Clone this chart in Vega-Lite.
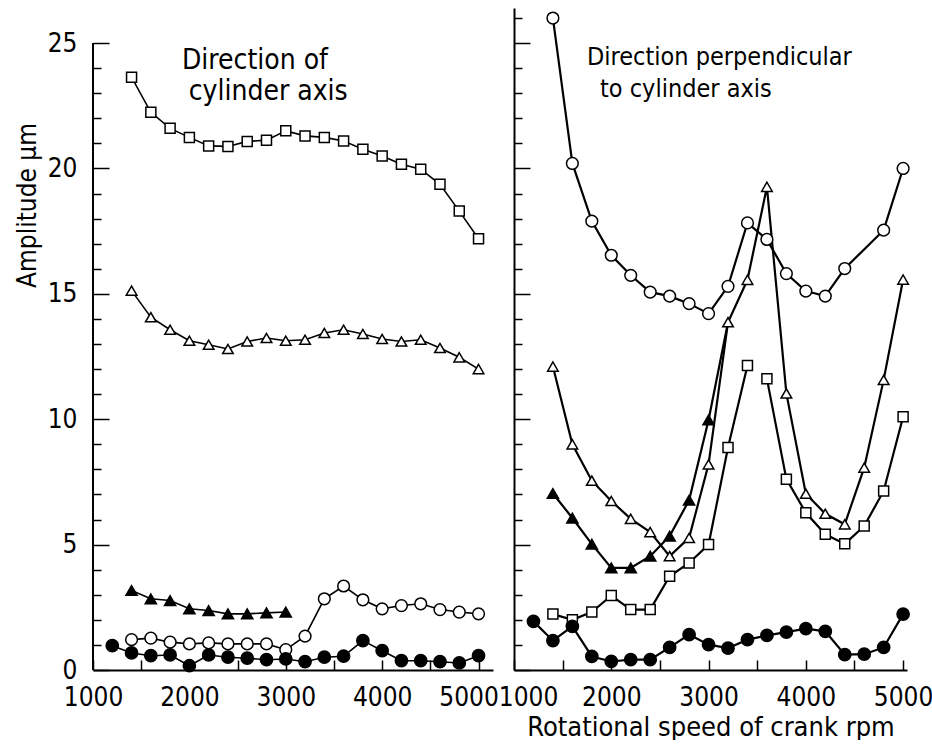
{
  "$schema": "https://vega.github.io/schema/vega-lite/v6.json",
  "background": "white",
  "padding": {"left": 14, "top": 8, "right": 5, "bottom": 0},
  "spacing": 21,
  "bounds": "flush",
  "config": {
    "view": {"stroke": null},
    "font": "Liberation Sans Narrow, DejaVu Sans Condensed, DejaVu Sans, sans-serif",
    "axis": {
      "grid": false,
      "labelFont": "Liberation Sans Narrow, DejaVu Sans Condensed, DejaVu Sans, sans-serif",
      "labelFontSize": 26,
      "labelColor": "black",
      "tickColor": "black",
      "tickWidth": 1.5,
      "domainColor": "black",
      "domainWidth": 2,
      "titleFont": "Liberation Sans Narrow, DejaVu Sans Condensed, DejaVu Sans, sans-serif",
      "titleFontSize": 26,
      "titleFontWeight": "normal",
      "titleColor": "black",
      "labelOverlap": false,
      "labelFlush": false
    }
  },
  "datasets": {
    "pts": [
      {"panel":"A","series":"square","branch":1,"rpm":1400,"amp":23.64},
      {"panel":"A","series":"square","branch":1,"rpm":1600,"amp":22.24},
      {"panel":"A","series":"square","branch":1,"rpm":1800,"amp":21.6},
      {"panel":"A","series":"square","branch":1,"rpm":2000,"amp":21.24},
      {"panel":"A","series":"square","branch":1,"rpm":2200,"amp":20.9},
      {"panel":"A","series":"square","branch":1,"rpm":2400,"amp":20.88},
      {"panel":"A","series":"square","branch":1,"rpm":2600,"amp":21.08},
      {"panel":"A","series":"square","branch":1,"rpm":2800,"amp":21.13},
      {"panel":"A","series":"square","branch":1,"rpm":3000,"amp":21.5},
      {"panel":"A","series":"square","branch":1,"rpm":3200,"amp":21.3},
      {"panel":"A","series":"square","branch":1,"rpm":3400,"amp":21.24},
      {"panel":"A","series":"square","branch":1,"rpm":3600,"amp":21.1},
      {"panel":"A","series":"square","branch":1,"rpm":3800,"amp":20.77},
      {"panel":"A","series":"square","branch":1,"rpm":4000,"amp":20.5},
      {"panel":"A","series":"square","branch":1,"rpm":4200,"amp":20.17},
      {"panel":"A","series":"square","branch":1,"rpm":4400,"amp":19.97},
      {"panel":"A","series":"square","branch":1,"rpm":4600,"amp":19.37},
      {"panel":"A","series":"square","branch":1,"rpm":4800,"amp":18.3},
      {"panel":"A","series":"square","branch":1,"rpm":5000,"amp":17.2},
      {"panel":"A","series":"triangle","branch":1,"rpm":1400,"amp":15.13},
      {"panel":"A","series":"triangle","branch":1,"rpm":1600,"amp":14.07},
      {"panel":"A","series":"triangle","branch":1,"rpm":1800,"amp":13.57},
      {"panel":"A","series":"triangle","branch":1,"rpm":2000,"amp":13.13},
      {"panel":"A","series":"triangle","branch":1,"rpm":2200,"amp":12.97},
      {"panel":"A","series":"triangle","branch":1,"rpm":2400,"amp":12.8},
      {"panel":"A","series":"triangle","branch":1,"rpm":2600,"amp":13.1},
      {"panel":"A","series":"triangle","branch":1,"rpm":2800,"amp":13.24},
      {"panel":"A","series":"triangle","branch":1,"rpm":3000,"amp":13.13},
      {"panel":"A","series":"triangle","branch":1,"rpm":3200,"amp":13.17},
      {"panel":"A","series":"triangle","branch":1,"rpm":3400,"amp":13.44},
      {"panel":"A","series":"triangle","branch":1,"rpm":3600,"amp":13.57},
      {"panel":"A","series":"triangle","branch":1,"rpm":3800,"amp":13.4},
      {"panel":"A","series":"triangle","branch":1,"rpm":4000,"amp":13.2},
      {"panel":"A","series":"triangle","branch":1,"rpm":4200,"amp":13.1},
      {"panel":"A","series":"triangle","branch":1,"rpm":4400,"amp":13.17},
      {"panel":"A","series":"triangle","branch":1,"rpm":4600,"amp":12.84},
      {"panel":"A","series":"triangle","branch":1,"rpm":4800,"amp":12.47},
      {"panel":"A","series":"triangle","branch":1,"rpm":5000,"amp":12.0},
      {"panel":"A","series":"filled_triangle","branch":1,"rpm":1400,"amp":3.17},
      {"panel":"A","series":"filled_triangle","branch":1,"rpm":1600,"amp":2.84},
      {"panel":"A","series":"filled_triangle","branch":1,"rpm":1800,"amp":2.77},
      {"panel":"A","series":"filled_triangle","branch":1,"rpm":2000,"amp":2.44},
      {"panel":"A","series":"filled_triangle","branch":1,"rpm":2200,"amp":2.37},
      {"panel":"A","series":"filled_triangle","branch":1,"rpm":2400,"amp":2.24},
      {"panel":"A","series":"filled_triangle","branch":1,"rpm":2600,"amp":2.24},
      {"panel":"A","series":"filled_triangle","branch":1,"rpm":2800,"amp":2.28},
      {"panel":"A","series":"filled_triangle","branch":1,"rpm":3000,"amp":2.31},
      {"panel":"A","series":"circle","branch":1,"rpm":1400,"amp":1.21},
      {"panel":"A","series":"circle","branch":1,"rpm":1600,"amp":1.27},
      {"panel":"A","series":"circle","branch":1,"rpm":1800,"amp":1.11},
      {"panel":"A","series":"circle","branch":1,"rpm":2000,"amp":1.04},
      {"panel":"A","series":"circle","branch":1,"rpm":2200,"amp":1.08},
      {"panel":"A","series":"circle","branch":1,"rpm":2400,"amp":1.04},
      {"panel":"A","series":"circle","branch":1,"rpm":2600,"amp":1.04},
      {"panel":"A","series":"circle","branch":1,"rpm":2800,"amp":1.04},
      {"panel":"A","series":"circle","branch":1,"rpm":3000,"amp":0.81},
      {"panel":"A","series":"circle","branch":1,"rpm":3200,"amp":1.35},
      {"panel":"A","series":"circle","branch":1,"rpm":3400,"amp":2.84},
      {"panel":"A","series":"circle","branch":1,"rpm":3600,"amp":3.35},
      {"panel":"A","series":"circle","branch":1,"rpm":3800,"amp":2.8},
      {"panel":"A","series":"circle","branch":1,"rpm":4000,"amp":2.44},
      {"panel":"A","series":"circle","branch":1,"rpm":4200,"amp":2.57},
      {"panel":"A","series":"circle","branch":1,"rpm":4400,"amp":2.64},
      {"panel":"A","series":"circle","branch":1,"rpm":4600,"amp":2.41},
      {"panel":"A","series":"circle","branch":1,"rpm":4800,"amp":2.31},
      {"panel":"A","series":"circle","branch":1,"rpm":5000,"amp":2.24},
      {"panel":"A","series":"filled_circle","branch":1,"rpm":1200,"amp":0.97},
      {"panel":"A","series":"filled_circle","branch":1,"rpm":1400,"amp":0.68},
      {"panel":"A","series":"filled_circle","branch":1,"rpm":1600,"amp":0.57},
      {"panel":"A","series":"filled_circle","branch":1,"rpm":1800,"amp":0.6},
      {"panel":"A","series":"filled_circle","branch":1,"rpm":2000,"amp":0.17},
      {"panel":"A","series":"filled_circle","branch":1,"rpm":2200,"amp":0.6},
      {"panel":"A","series":"filled_circle","branch":1,"rpm":2400,"amp":0.51},
      {"panel":"A","series":"filled_circle","branch":1,"rpm":2600,"amp":0.47},
      {"panel":"A","series":"filled_circle","branch":1,"rpm":2800,"amp":0.41},
      {"panel":"A","series":"filled_circle","branch":1,"rpm":3000,"amp":0.44},
      {"panel":"A","series":"filled_circle","branch":1,"rpm":3200,"amp":0.33},
      {"panel":"A","series":"filled_circle","branch":1,"rpm":3400,"amp":0.51},
      {"panel":"A","series":"filled_circle","branch":1,"rpm":3600,"amp":0.55},
      {"panel":"A","series":"filled_circle","branch":1,"rpm":3800,"amp":1.17},
      {"panel":"A","series":"filled_circle","branch":1,"rpm":4000,"amp":0.77},
      {"panel":"A","series":"filled_circle","branch":1,"rpm":4200,"amp":0.37},
      {"panel":"A","series":"filled_circle","branch":1,"rpm":4400,"amp":0.37},
      {"panel":"A","series":"filled_circle","branch":1,"rpm":4600,"amp":0.33},
      {"panel":"A","series":"filled_circle","branch":1,"rpm":4800,"amp":0.28},
      {"panel":"A","series":"filled_circle","branch":1,"rpm":5000,"amp":0.57},

      {"panel":"P","series":"circle","branch":1,"rpm":1400,"amp":26.0},
      {"panel":"P","series":"circle","branch":1,"rpm":1600,"amp":20.2},
      {"panel":"P","series":"circle","branch":1,"rpm":1800,"amp":17.9},
      {"panel":"P","series":"circle","branch":1,"rpm":2000,"amp":16.54},
      {"panel":"P","series":"circle","branch":1,"rpm":2200,"amp":15.74},
      {"panel":"P","series":"circle","branch":1,"rpm":2400,"amp":15.07},
      {"panel":"P","series":"circle","branch":1,"rpm":2600,"amp":14.91},
      {"panel":"P","series":"circle","branch":1,"rpm":2800,"amp":14.61},
      {"panel":"P","series":"circle","branch":1,"rpm":3000,"amp":14.21},
      {"panel":"P","series":"circle","branch":1,"rpm":3200,"amp":15.3},
      {"panel":"P","series":"circle","branch":1,"rpm":3400,"amp":17.83},
      {"panel":"P","series":"circle","branch":1,"rpm":3600,"amp":17.17},
      {"panel":"P","series":"circle","branch":1,"rpm":3800,"amp":15.81},
      {"panel":"P","series":"circle","branch":1,"rpm":4000,"amp":15.11},
      {"panel":"P","series":"circle","branch":1,"rpm":4200,"amp":14.91},
      {"panel":"P","series":"circle","branch":1,"rpm":4400,"amp":16.01},
      {"panel":"P","series":"circle","branch":1,"rpm":4800,"amp":17.54},
      {"panel":"P","series":"circle","branch":1,"rpm":5000,"amp":20.0},
      {"panel":"P","series":"triangle","branch":1,"rpm":1400,"amp":12.1},
      {"panel":"P","series":"triangle","branch":1,"rpm":1600,"amp":9.0},
      {"panel":"P","series":"triangle","branch":1,"rpm":1800,"amp":7.55},
      {"panel":"P","series":"triangle","branch":1,"rpm":2000,"amp":6.74},
      {"panel":"P","series":"triangle","branch":1,"rpm":2200,"amp":6.03},
      {"panel":"P","series":"triangle","branch":1,"rpm":2400,"amp":5.5},
      {"panel":"P","series":"triangle","branch":1,"rpm":2600,"amp":4.54},
      {"panel":"P","series":"triangle","branch":1,"rpm":2800,"amp":5.27},
      {"panel":"P","series":"triangle","branch":1,"rpm":3000,"amp":8.2},
      {"panel":"P","series":"triangle","branch":1,"rpm":3200,"amp":13.87},
      {"panel":"P","series":"triangle","branch":1,"rpm":3400,"amp":15.56},
      {"panel":"P","series":"triangle","branch":1,"rpm":3600,"amp":19.27},
      {"panel":"P","series":"triangle","branch":1,"rpm":3800,"amp":11.03},
      {"panel":"P","series":"triangle","branch":1,"rpm":4000,"amp":7.03},
      {"panel":"P","series":"triangle","branch":1,"rpm":4200,"amp":6.23},
      {"panel":"P","series":"triangle","branch":1,"rpm":4400,"amp":5.81},
      {"panel":"P","series":"triangle","branch":1,"rpm":4600,"amp":8.07},
      {"panel":"P","series":"triangle","branch":1,"rpm":4800,"amp":11.57},
      {"panel":"P","series":"triangle","branch":1,"rpm":5000,"amp":15.57},
      {"panel":"P","series":"filled_triangle","branch":1,"rpm":1400,"amp":7.04},
      {"panel":"P","series":"filled_triangle","branch":1,"rpm":1600,"amp":6.06},
      {"panel":"P","series":"filled_triangle","branch":1,"rpm":1800,"amp":5.02},
      {"panel":"P","series":"filled_triangle","branch":1,"rpm":2000,"amp":4.07},
      {"panel":"P","series":"filled_triangle","branch":1,"rpm":2200,"amp":4.07},
      {"panel":"P","series":"filled_triangle","branch":1,"rpm":2400,"amp":4.54},
      {"panel":"P","series":"filled_triangle","branch":1,"rpm":2600,"amp":5.34},
      {"panel":"P","series":"filled_triangle","branch":1,"rpm":2800,"amp":6.77},
      {"panel":"P","series":"filled_triangle","branch":1,"rpm":3000,"amp":9.97},
      {"panel":"P","series":"filled_triangle","branch":1,"rpm":3200,"amp":13.87},
      {"panel":"P","series":"square","branch":1,"rpm":1400,"amp":2.23},
      {"panel":"P","series":"square","branch":1,"rpm":1600,"amp":2.0},
      {"panel":"P","series":"square","branch":1,"rpm":1800,"amp":2.31},
      {"panel":"P","series":"square","branch":1,"rpm":2000,"amp":2.97},
      {"panel":"P","series":"square","branch":1,"rpm":2200,"amp":2.41},
      {"panel":"P","series":"square","branch":1,"rpm":2400,"amp":2.41},
      {"panel":"P","series":"square","branch":1,"rpm":2600,"amp":3.74},
      {"panel":"P","series":"square","branch":1,"rpm":2800,"amp":4.27},
      {"panel":"P","series":"square","branch":1,"rpm":3000,"amp":5.0},
      {"panel":"P","series":"square","branch":1,"rpm":3200,"amp":8.87},
      {"panel":"P","series":"square","branch":1,"rpm":3400,"amp":12.14},
      {"panel":"P","series":"square","branch":2,"rpm":3600,"amp":11.61},
      {"panel":"P","series":"square","branch":2,"rpm":3800,"amp":7.61},
      {"panel":"P","series":"square","branch":2,"rpm":4000,"amp":6.27},
      {"panel":"P","series":"square","branch":2,"rpm":4200,"amp":5.41},
      {"panel":"P","series":"square","branch":2,"rpm":4400,"amp":5.03},
      {"panel":"P","series":"square","branch":2,"rpm":4600,"amp":5.74},
      {"panel":"P","series":"square","branch":2,"rpm":4800,"amp":7.14},
      {"panel":"P","series":"square","branch":2,"rpm":5000,"amp":10.1},
      {"panel":"P","series":"filled_circle","branch":1,"rpm":1200,"amp":1.94},
      {"panel":"P","series":"filled_circle","branch":1,"rpm":1400,"amp":1.17},
      {"panel":"P","series":"filled_circle","branch":1,"rpm":1600,"amp":1.74},
      {"panel":"P","series":"filled_circle","branch":1,"rpm":1800,"amp":0.54},
      {"panel":"P","series":"filled_circle","branch":1,"rpm":2000,"amp":0.34},
      {"panel":"P","series":"filled_circle","branch":1,"rpm":2200,"amp":0.41},
      {"panel":"P","series":"filled_circle","branch":1,"rpm":2400,"amp":0.41},
      {"panel":"P","series":"filled_circle","branch":1,"rpm":2600,"amp":0.9},
      {"panel":"P","series":"filled_circle","branch":1,"rpm":2800,"amp":1.41},
      {"panel":"P","series":"filled_circle","branch":1,"rpm":3000,"amp":1.01},
      {"panel":"P","series":"filled_circle","branch":1,"rpm":3200,"amp":0.87},
      {"panel":"P","series":"filled_circle","branch":1,"rpm":3400,"amp":1.21},
      {"panel":"P","series":"filled_circle","branch":1,"rpm":3600,"amp":1.38},
      {"panel":"P","series":"filled_circle","branch":1,"rpm":3800,"amp":1.51},
      {"panel":"P","series":"filled_circle","branch":1,"rpm":4000,"amp":1.65},
      {"panel":"P","series":"filled_circle","branch":1,"rpm":4200,"amp":1.54},
      {"panel":"P","series":"filled_circle","branch":1,"rpm":4400,"amp":0.61},
      {"panel":"P","series":"filled_circle","branch":1,"rpm":4600,"amp":0.63},
      {"panel":"P","series":"filled_circle","branch":1,"rpm":4800,"amp":0.9},
      {"panel":"P","series":"filled_circle","branch":1,"rpm":5000,"amp":2.23}
    ],
    "notes": [
      {"panel":"A","rpm":1923,"amp":24.3,"text":"Direction of"},
      {"panel":"A","rpm":1993,"amp":23.06,"text":"cylinder axis"},
      {"panel":"P","rpm":1750,"amp":24.46,"text":"Direction perpendicular"},
      {"panel":"P","rpm":1884,"amp":23.17,"text":"to cylinder axis"}
    ]
  },
  "hconcat": [
    {
      "width": 400,
      "height": 662,
      "layer": [
        {
          "data": {"values": [{"from": 0, "to": 25, "at": 1000}]},
          "mark": {"type": "rule", "color": "black", "strokeWidth": 2},
          "encoding": {
            "x": {"field": "at", "type": "quantitative"},
            "y": {"field": "from", "type": "quantitative"},
            "y2": {"field": "to"}
          }
        },
        {
          "data": {"name": "pts"},
          "transform": [{"filter": "datum.panel === 'A'"}],
          "mark": {"type": "line", "color": "black", "strokeWidth": 1.6},
          "encoding": {
            "x": {"field": "rpm", "type": "quantitative",
              "scale": {"domain": [1000, 5150], "nice": false, "zero": false},
              "axis": {
                "values": [1000, 1500, 2000, 2500, 3000, 3500, 4000, 4500, 5000],
                "tickCount": 100,
                "format": "d",
                "labelExpr": "datum.value % 1000 === 0 ? datum.label : ''",
                "labelOffset": {"condition": {"test": "datum.value === 5000", "value": -10}, "value": 0},
                "labelOverlap": false,
                "tickSize": -10,
                "labelPadding": 24,
                "title": null
              }
            },
            "y": {"field": "amp", "type": "quantitative",
              "scale": {"domain": [0, 26.4], "nice": false},
              "axis": {
                "values": [0,1,2,3,4,5,6,7,8,9,10,11,12,13,14,15,16,17,18,19,20,21,22,23,24,25],
                "tickCount": 100,
                "format": "d",
                "labelExpr": "datum.value % 5 === 0 ? datum.label : ''",
                "labelOverlap": false,
                "tickSize": {"condition": {"test": "datum.value % 5 === 0", "value": -16}, "value": -8},
                "labelPadding": 32,
                "domain": false,
                "title": "Amplitude μm",
                "titleAngle": -90,
                "titleX": -66,
                "titleY": 197,
                "titleAlign": "center",
                "titleBaseline": "middle"
              }
            },
            "detail": [{"field": "series"}, {"field": "branch"}]
          }
        },
        {
          "data": {"name": "pts"},
          "transform": [{"filter": "datum.panel === 'A'"}],
          "mark": {"type": "point", "filled": true, "stroke": "black", "strokeWidth": 1.5, "opacity": 1},
          "encoding": {
            "x": {"field": "rpm", "type": "quantitative"},
            "y": {"field": "amp", "type": "quantitative"},
            "shape": {"field": "series", "scale": {"domain": ["square","triangle","filled_triangle","circle","filled_circle"], "range": ["square","triangle-up","triangle-up","circle","circle"]}, "legend": null},
            "fill": {"field": "series", "scale": {"domain": ["square","triangle","filled_triangle","circle","filled_circle"], "range": ["white","white","black","white","black"]}, "legend": null},
            "size": {"field": "series", "scale": {"domain": ["square","triangle","filled_triangle","circle","filled_circle"], "range": [100, 150, 150, 160, 160]}, "legend": null}
          }
        },
        {
          "data": {"name": "notes"},
          "transform": [{"filter": "datum.panel === 'A'"}],
          "mark": {"type": "text", "align": "left", "baseline": "middle", "fontSize": 28, "color": "black", "font": "Liberation Sans Narrow, DejaVu Sans Condensed, DejaVu Sans, sans-serif"},
          "encoding": {
            "x": {"field": "rpm", "type": "quantitative"},
            "y": {"field": "amp", "type": "quantitative"},
            "text": {"field": "text"}
          }
        }
      ]
    },
    {
      "width": 393,
      "height": 662,
      "layer": [
        {
          "data": {"name": "pts"},
          "transform": [{"filter": "datum.panel === 'P'"}],
          "mark": {"type": "line", "color": "black", "strokeWidth": 2.2},
          "encoding": {
            "x": {"field": "rpm", "type": "quantitative",
              "scale": {"domain": [1000, 5040], "nice": false, "zero": false},
              "axis": {
                "values": [1000, 1500, 2000, 2500, 3000, 3500, 4000, 4500, 5000],
                "tickCount": 100,
                "format": "d",
                "labelExpr": "datum.value % 1000 === 0 ? datum.label : ''",
                "labelOffset": {"condition": {"test": "datum.value === 1000", "value": 14}, "value": 0},
                "labelOverlap": false,
                "tickSize": -10,
                "labelPadding": 24,
                "title": "Rotational speed of crank rpm",
                "titleFontSize": 27,
                "titlePadding": 4
              }
            },
            "y": {"field": "amp", "type": "quantitative",
              "scale": {"domain": [0, 26.4], "nice": false},
              "axis": {
                "values": [0,1,2,3,4,5,6,7,8,9,10,11,12,13,14,15,16,17,18,19,20,21,22,23,24,25,26],
                "tickCount": 100,
                "labels": false,
                "tickSize": {"condition": {"test": "datum.value % 5 === 0", "value": -16}, "value": -8},
                "title": null
              }
            },
            "detail": [{"field": "series"}, {"field": "branch"}]
          }
        },
        {
          "data": {"name": "pts"},
          "transform": [{"filter": "datum.panel === 'P' && !(datum.series === 'filled_triangle' && datum.rpm > 3000)"}],
          "mark": {"type": "point", "filled": true, "stroke": "black", "strokeWidth": 1.5, "opacity": 1},
          "encoding": {
            "x": {"field": "rpm", "type": "quantitative"},
            "y": {"field": "amp", "type": "quantitative"},
            "shape": {"field": "series", "scale": {"domain": ["square","triangle","filled_triangle","circle","filled_circle"], "range": ["square","triangle-up","triangle-up","circle","circle"]}, "legend": null},
            "fill": {"field": "series", "scale": {"domain": ["square","triangle","filled_triangle","circle","filled_circle"], "range": ["white","white","black","white","black"]}, "legend": null},
            "size": {"field": "series", "scale": {"domain": ["square","triangle","filled_triangle","circle","filled_circle"], "range": [100, 150, 150, 160, 160]}, "legend": null}
          }
        },
        {
          "data": {"name": "notes"},
          "transform": [{"filter": "datum.panel === 'P'"}],
          "mark": {"type": "text", "align": "left", "baseline": "middle", "fontSize": 25, "color": "black", "font": "Liberation Sans Narrow, DejaVu Sans Condensed, DejaVu Sans, sans-serif"},
          "encoding": {
            "x": {"field": "rpm", "type": "quantitative"},
            "y": {"field": "amp", "type": "quantitative"},
            "text": {"field": "text"}
          }
        }
      ]
    }
  ]
}
